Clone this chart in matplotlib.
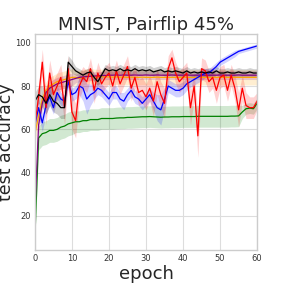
import numpy as np
import matplotlib
matplotlib.use("Agg")
import matplotlib.pyplot as plt

epochs = list(range(61))

green_mean = [10, 56, 58, 58.5, 59.5, 59.5, 60, 61, 61.5, 62.5, 63, 63.5, 63.5, 64, 64, 64.5, 64.5, 64.5, 65, 65,
              65, 65, 65.2, 65.3, 65.3, 65.5, 65.5, 65.6, 65.7, 65.8, 65.8, 65.9, 65.8, 65.7, 65.6, 65.7, 65.7, 65.8,
              65.8, 65.8, 65.9, 65.9, 65.9, 65.9, 66, 66, 66, 66, 66, 66, 66, 66, 66, 66.1, 66.1, 66.2, 68, 69.5,
              69.8, 69.5, 72]
green_std = [1.5] + [5.5] * 10 + [5] * 45 + [3, 2.5, 2.5, 2.5, 2.5]

purple_mean = [22, 62, 72, 77, 79, 80, 81, 81.5, 82, 82.5, 83, 83.5, 84, 84.2, 84.4, 84.5, 84.6, 84.7, 84.8, 84.9,
               85, 85, 85.1, 85, 85.1, 85, 85, 85.1, 85, 85, 85.1, 85, 85, 85.1, 85, 85, 85, 85.1, 85, 85,
               85, 85.1, 85, 85, 85, 85.1, 85, 85, 85, 85, 85.1, 85, 85, 85, 85, 85.1, 85, 85, 85, 85, 85]
purple_std = [3] + [3] * 10 + [2] * 50

orange_mean = [58, 66, 74, 78, 80, 81, 82, 82.5, 83, 83.5, 84, 84, 83.5, 84, 84.5, 84.5, 84.3, 84.2, 84.3, 84.2,
               84.2, 84.1, 84.2, 84.1, 84.1, 84, 84.1, 84, 84, 84.1, 84, 84, 84, 84.1, 84, 84, 84, 84, 84, 84,
               84, 84, 84, 84, 84, 84, 84, 84, 84, 84, 84, 84, 84, 84, 84, 84, 84, 84, 84, 84, 84]
orange_std = [4] * 11 + [3.5] * 50

black_mean = [73, 76, 75, 72, 76, 73, 72, 70, 70, 91, 89, 87, 86, 85, 86, 86.5, 84, 82, 85, 88,
              87, 87.5, 87, 88, 87, 87.5, 87, 88, 87, 87.5, 87, 87.5, 86.5, 87, 87.5, 86.5, 87, 86.5, 87, 86.5,
              86, 87, 86, 86.5, 86, 86.5, 86, 86.5, 86, 87, 86, 86, 86.5, 86, 86, 86.5, 86, 86, 86.5, 86, 86]
black_std = [4, 4, 5, 5, 5, 5, 5, 5, 5, 3, 3] + [2] * 50

blue_mean = [62, 70, 63, 71, 75, 70, 77, 74, 73, 82, 76, 77, 80, 79, 74, 76, 77, 79, 78, 76,
             74, 77, 77, 74, 73, 76, 78, 75, 74, 72, 74, 76, 73, 70, 69, 74, 80, 79, 78, 78,
             79, 81, 82, 83, 84, 85, 86, 86, 87.5, 89, 91, 92, 93, 94, 95, 96, 96.5, 97, 97.5, 98, 98.5]
blue_std = [3, 4, 4, 4, 4, 3, 3, 3, 3, 3, 3, 3, 4, 6, 7, 5, 3, 3, 3, 3,
            3, 3, 3, 3, 4, 3, 3, 3, 3, 3, 3, 3, 4, 6, 7, 5, 3, 3, 3, 3,
            3, 3, 2.5, 2.5, 2.5, 2.5, 2, 2, 2, 2, 1.5, 1.5, 1.5, 1.5, 1.5, 1, 1, 1, 1, 1, 1]

red_mean = [62, 75, 91, 70, 86, 76, 80, 84, 70, 88, 68, 64, 80, 84, 82, 88, 78, 86, 81, 84,
            86, 80, 87, 81, 85, 89, 79, 84, 77, 78, 75, 79, 73, 82, 76, 72, 88, 93, 86, 82,
            84, 86, 70, 80, 57, 88, 87, 82, 84, 78, 84, 85, 78, 85, 79, 69, 79, 71, 70, 70, 73]
red_std = [5, 6, 6, 8, 6, 7, 6, 6, 8, 6, 8, 8, 6, 5, 5, 5, 6, 5, 5, 5,
           5, 6, 5, 5, 5, 5, 6, 5, 6, 6, 6, 6, 7, 6, 6, 7, 6, 4, 5, 5,
           5, 5, 8, 6, 10, 5, 5, 5, 5, 6, 5, 5, 5, 5, 6, 8, 6, 6, 5, 5, 4]

series = [
    (green_mean, green_std, "green"),
    (orange_mean, orange_std, "orange"),
    (purple_mean, purple_std, "purple"),
    (blue_mean, blue_std, "blue"),
    (red_mean, red_std, "red"),
    (black_mean, black_std, "black"),
]

plt.rcParams.update({
    "font.family": ["DejaVu Sans"],
})

fig = plt.figure(figsize=(2.86, 2.86), dpi=100)
ax = fig.add_axes([0.122, 0.126, 0.777, 0.755])
ax.set_facecolor("white")
ax.grid(True, color="#dddddd", linewidth=0.8)
ax.set_axisbelow(True)

x = np.array(epochs)
for m, s, c in series:
    m = np.array(m, dtype=float)
    s = np.array(s, dtype=float)
    ax.fill_between(x, m - s, m + s, color=c, alpha=0.18, linewidth=0)
    ax.plot(x, m, color=c, linewidth=0.9)

ax.set_xlim(0, 60)
ax.set_ylim(4.3, 104)
ax.set_xticks([0, 10, 20, 30, 40, 50, 60])
ax.set_yticks([20, 40, 60, 80, 100])
ax.tick_params(length=0, labelsize=6, labelcolor="#333333", pad=3)
for sp in ax.spines.values():
    sp.set_color("#cccccc")
    sp.set_linewidth(1)

ax.set_title("MNIST, Pairflip 45%", fontsize=13, color="#262626", pad=2)
ax.set_xlabel("epoch", fontsize=13, color="#262626", labelpad=1)
ax.set_ylabel("test accuracy", fontsize=12.5, color="#262626", labelpad=0)

fig.savefig("out.png", dpi=100)
